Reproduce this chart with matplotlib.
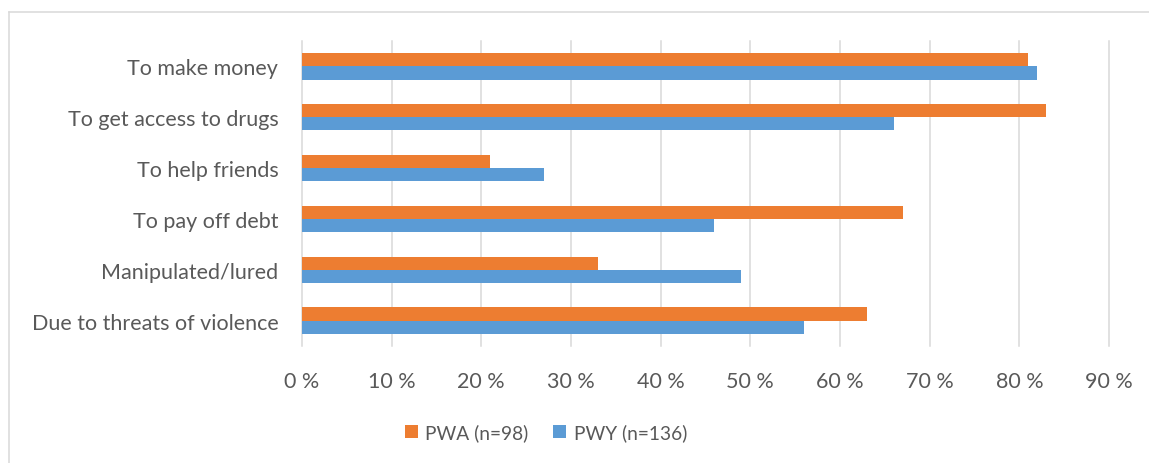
import numpy as np
import matplotlib
matplotlib.use("Agg")
import matplotlib.pyplot as plt
from matplotlib.lines import Line2D

# Data (percent)
categories = ["To make money", "To get access to drugs", "To help friends",
              "To pay off debt", "Manipulated/lured", "Due to threats of violence"]
pwa_values = [81, 83, 21, 67, 33, 63]
pwy_values = [82, 66, 27, 46, 49, 56]
series_labels = ["PWA (n=98)", "PWY (n=136)"]
x_ticks = [0, 10, 20, 30, 40, 50, 60, 70, 80, 90]

text_color = "#595959"
orange = "#ED7D31"
blue = "#5B9BD5"

plt.rcParams["font.family"] = ["Lato", "DejaVu Sans"]

fig = plt.figure(figsize=(11.49, 4.64), dpi=100)
ax = fig.add_axes([0.2628, 0.2522, 0.7024, 0.6573])

# first category on top
y = np.arange(len(categories))[::-1]
bh = 0.26
ax.barh(y + bh / 2, pwa_values, height=bh, color=orange, label=series_labels[0], zorder=3)
ax.barh(y - bh / 2, pwy_values, height=bh, color=blue, label=series_labels[1], zorder=3)

ax.set_xlim(0, 90)
ax.set_ylim(-0.5, len(categories) - 0.5)
ax.set_yticks(y)
ax.set_yticklabels(categories)
ax.set_xticks(x_ticks)
ax.set_xticklabels([f"{t} %" for t in x_ticks])

ax.tick_params(axis="both", length=0, labelsize=15.5, labelcolor=text_color)
ax.tick_params(axis="y", pad=17)
ax.tick_params(axis="x", pad=18)

ax.grid(axis="x", color="#d9d9d9", linewidth=1.1, zorder=0)
ax.set_axisbelow(True)
for gl in ax.get_xgridlines():
    gl.set_clip_on(False)
for s in ax.spines.values():
    s.set_visible(False)

leg = fig.legend(loc="center", bbox_to_anchor=(546 / 1149, 31 / 464), ncol=2,
                 frameon=False, fontsize=13.8, handlelength=0.65, handleheight=0.65,
                 handletextpad=0.4, columnspacing=1.3)
for t in leg.get_texts():
    t.set_color(text_color)

# light outer frame (left and top edge visible in the reference)
fig.add_artist(Line2D([8.5 / 1149, 8.5 / 1149], [0, 451 / 464], color="#d9d9d9", lw=1.1))
fig.add_artist(Line2D([8.5 / 1149, 1], [451 / 464, 451 / 464], color="#d9d9d9", lw=1.1))

fig.savefig("out.png", dpi=100)
